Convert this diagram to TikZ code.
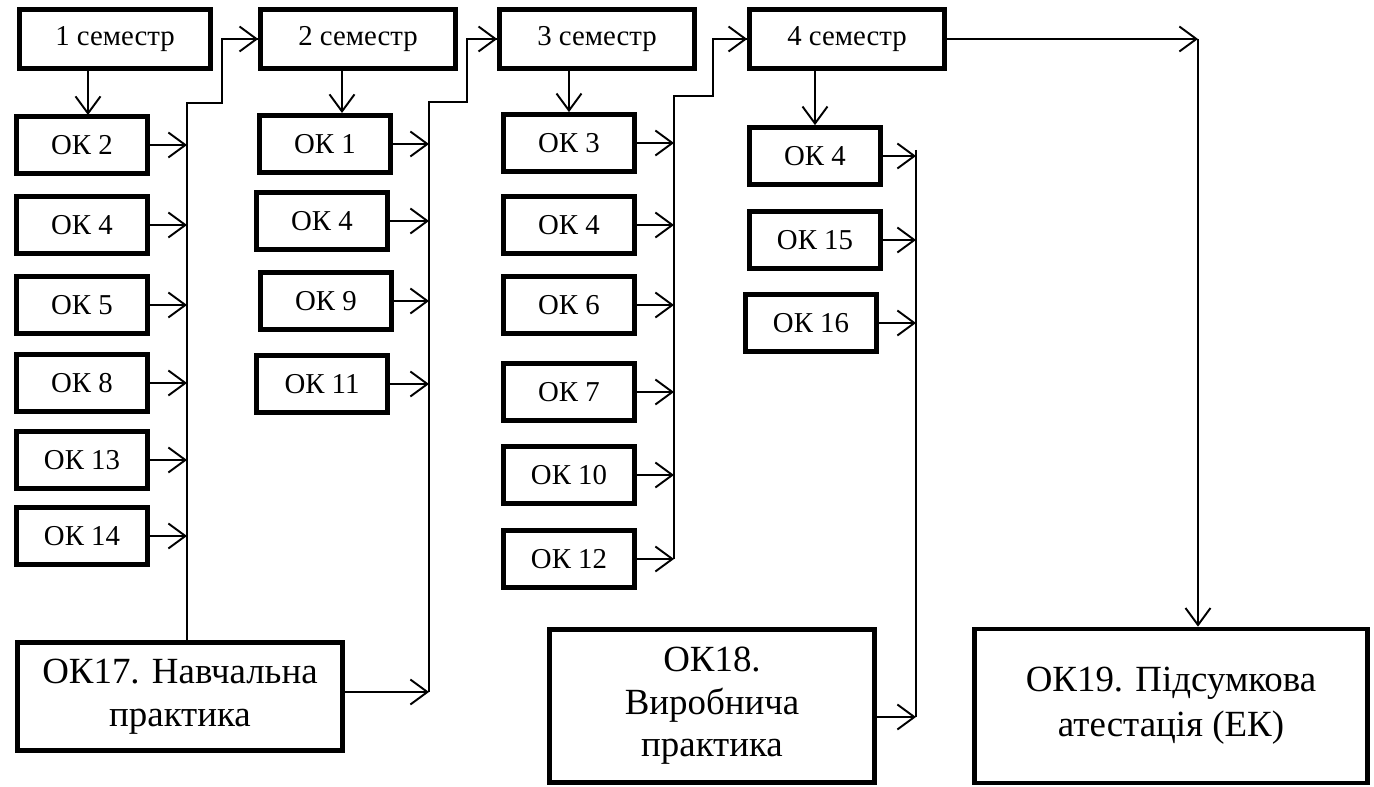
\documentclass[tikz,border=0pt]{standalone}
\usepackage{fontspec}
\setmainfont{Liberation Serif}
\usetikzlibrary{arrows.meta}

\tikzset{
  box/.style={draw, line width=2.7pt, inner sep=0pt, minimum width=2.62cm,
    minimum height=1.14cm, font=\fontsize{16.4}{19}\selectfont},
  sembox/.style={box, minimum width=3.9cm, minimum height=1.18cm},
  bigbox/.style={box, align=center, font=\fontsize{21}{24.2}\selectfont},
  conn/.style={line width=1.1pt, -{Straight Barb[length=3.4mm,width=5mm]}},
  bus/.style={line width=1.1pt}
}

\begin{document}
\begin{tikzpicture}[x=0.02cm, y=-0.02cm]
    \useasboundingbox (0,0) rectangle (1374,787);

    % semesters
    \node[sembox, minimum width=3.82cm] (s1) at (115,39) {1 семестр};
    \node[sembox] (s2) at (358,39) {2 семестр};
    \node[sembox] (s3) at (597,39) {3 семестр};
    \node[sembox] (s4) at (847,39) {4 семестр};

    % first semester
    \node[box] (ok2a) at (82,145) {ОК 2};
    \node[box] (ok4a) at (82,225) {ОК 4};
    \node[box] (ok5a) at (82,305) {ОК 5};
    \node[box] (ok8a) at (82,383) {ОК 8};
    \node[box] (ok13a) at (82,460) {ОК 13};
    \node[box] (ok14a) at (82,536) {ОК 14};

    % second semester
    \node[box] (ok1b) at (325,144) {ОК 1};
    \node[box] (ok4b) at (322,221) {ОК 4};
    \node[box] (ok9b) at (326,301) {ОК 9};
    \node[box] (ok11b) at (322,384) {ОК 11};

    % third semester
    \node[box] (ok3c) at (569,143) {ОК 3};
    \node[box] (ok4c) at (569,225) {ОК 4};
    \node[box] (ok6c) at (569,305) {ОК 6};
    \node[box] (ok7c) at (569,392) {ОК 7};
    \node[box] (ok10c) at (569,475) {ОК 10};
    \node[box] (ok12c) at (569,559) {ОК 12};

    % fourth semester
    \node[box] (ok4d) at (815,156) {ОК 4};
    \node[box] (ok15d) at (815,240) {ОК 15};
    \node[box] (ok16d) at (811,323) {ОК 16};

    % practice and attestation
    \node[bigbox, minimum width=6.5cm, minimum height=2.16cm] (ok17) at (180,696.5)
        {ОК17. Навчальна\\практика};
    \node[bigbox, minimum width=6.5cm, minimum height=3.06cm] (ok18) at (712,706)
        {ОК18.\\Виробнича\\практика};
    \node[bigbox, minimum width=7.86cm, minimum height=3.08cm,
        font=\fontsize{21}{25.5}\selectfont] (ok19) at (1171,706)
        {ОК19. Підсумкова\\атестація (ЕК)};

    % buses
    \coordinate (b1) at (187,103);
    \coordinate (b2) at (429,102);
    \coordinate (b3) at (674,96);
    \coordinate (b4) at (916,150);
    \coordinate (t1) at (88,115);
    \coordinate (t2) at (342,113);
    \coordinate (e17) at ([yshift=0.09cm]ok17.east);
    \coordinate (e18) at ([yshift=-0.22cm]ok18.east);
    \coordinate (c19) at (1198,39);

    % semester to first subject
    \draw[conn] (t1 |- s1.south) -- (t1);
    \draw[conn] (t2 |- s2.south) -- (t2);
    \draw[conn] (ok3c.north |- s3.south) -- (ok3c.north);
    \draw[conn] (ok4d.north |- s4.south) -- (ok4d.north);

    % subjects to buses
    \foreach \n in {ok2a,ok4a,ok5a,ok8a,ok13a,ok14a}
        \draw[conn] (\n.east) -- (\n.east -| b1);
    \foreach \n in {ok1b,ok4b,ok9b,ok11b}
        \draw[conn] (\n.east) -- (\n.east -| b2);
    \foreach \n in {ok3c,ok4c,ok6c,ok7c,ok10c,ok12c}
        \draw[conn] (\n.east) -- (\n.east -| b3);
    \foreach \n in {ok4d,ok15d,ok16d}
        \draw[conn] (\n.east) -- (\n.east -| b4);
    \draw[conn] (e17) -- (e17 -| b2);
    \draw[conn] (e18) -- (e18 -| b4);

    % buses to next semester
    \draw[bus] (ok17.north -| b1) -- (b1) -- ++(35,0) |- (s2.west);
    \draw[conn] (s2.west) ++(-10,0) -- (s2.west);
    \draw[bus] (e17 -| b2) -- (b2) -- ++(38,0) |- (s3.west);
    \draw[conn] (s3.west) ++(-10,0) -- (s3.west);
    \draw[bus] (ok12c.east -| b3) -- (b3) -- ++(39,0) |- (s4.west);
    \draw[conn] (s4.west) ++(-10,0) -- (s4.west);
    \draw[bus] (b4) -- (e18 -| b4);

    % to attestation
    \draw[conn] (s4.east) -- (c19);
    \draw[conn] (c19) -- (c19 |- ok19.north);
\end{tikzpicture}
\end{document}
